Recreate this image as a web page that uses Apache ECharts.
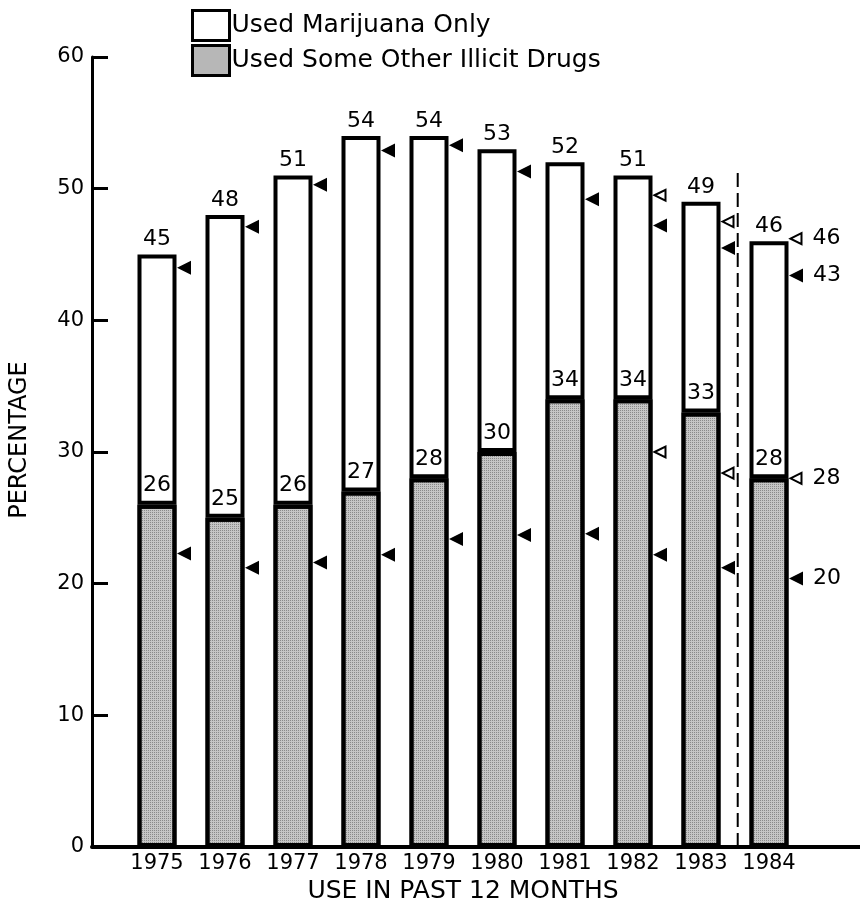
<!DOCTYPE html>
<html>
<head>
<meta charset="utf-8">
<script src="https://cdn.jsdelivr.net/npm/echarts@6/dist/echarts.min.js"></script>
<style>
html,body{margin:0;padding:0;background:#fff;}
#c{width:860px;height:912px;}
</style>
</head>
<body>
<div id="c"></div>
<script>
// ---- data ----
const years = ['1975','1976','1977','1978','1979','1980','1981','1982','1983','1984'];
const totalUse = [45, 48, 51, 54, 54, 53, 52, 51, 49, 46];
const otherDrugs = [26, 25, 26, 27, 28, 30, 34, 34, 33, 28];
const marijuanaOnly = totalUse.map((t, i) => t - otherDrugs[i]);
// triangle markers
const upperFilled = [44.0, 47.1, 50.3, 52.9, 53.3, 51.3, 49.2, 47.2, 45.5, 43.4];
const upperOpen   = [null, null, null, null, null, null, null, 49.5, 47.5, 46.2];
const lowerFilled = [22.3, 21.2, 21.6, 22.2, 23.4, 23.7, 23.8, 22.2, 21.2, 20.4];
const lowerOpen   = [null, null, null, null, null, null, null, 30.0, 28.4, 28.0];
const yTicks = [0, 10, 20, 30, 40, 50, 60];
const dividerAt = 8.54;      // between 1983 and 1984 (category index units)
const dividerTop = 51.2;

const FONT = 'DejaVu Sans';
const chart = echarts.init(document.getElementById('c'));

function triSeries(name, data, filled, yearLabel) {
  return {
    name: name,
    type: 'scatter',
    xAxisIndex: 0, yAxisIndex: 0,
    symbol: 'triangle',
    symbolRotate: 90,
    symbolSize: filled ? 14 : 11,
    symbolOffset: [27, 0],
    itemStyle: filled ? {color: '#000', opacity: 1} : {color: '#fff', borderColor: '#000', borderWidth: 2, opacity: 1},
    z: 5,
    data: data.map((v, i) => {
      if (v == null) return null;
      const item = {value: v};
      if (years[i] === yearLabel) {
        item.label = {
          show: true, position: 'right', distance: 10,
          formatter: p => Math.round(p.value),
          fontFamily: FONT, fontSize: 22, color: '#000'
        };
      }
      return item;
    }),
    silent: true
  };
}

const option = {
  animation: false,
  backgroundColor: '#fff',
  textStyle: {fontFamily: FONT, color: '#000'},
  legend: {
    orient: 'vertical',
    left: 186, top: 4,
    itemWidth: 37, itemHeight: 30,
    itemGap: 2,
    icon: 'rect',
    itemStyle: {borderColor: '#000', borderWidth: 3},
    textStyle: {fontFamily: FONT, fontSize: 25, color: '#000', padding: [0,0,0,-3]},
    data: ['Used Marijuana Only', 'Used Some Other Illicit Drugs']
  },
  grid: [
    {left: 123, right: 57, top: 57, bottom: 65},
    {left: 90, right: 0, top: 57, bottom: 65}
  ],
  xAxis: [
    {
      type: 'category', gridIndex: 0, data: years,
      axisLine: {show: false}, axisTick: {show: false},
      axisLabel: {fontFamily: FONT, fontSize: 21, color: '#000', margin: 6, interval: 0},
      name: 'USE IN PAST 12 MONTHS', nameLocation: 'middle', nameGap: 31,
      nameTextStyle: {fontFamily: FONT, fontSize: 25, color: '#000'}
    },
    {
      type: 'value', gridIndex: 1, min: 0, max: 1,
      axisLine: {show: true, lineStyle: {color: '#000', width: 4}},
      axisTick: {show: false}, axisLabel: {show: false}, splitLine: {show: false}
    },
    {
      type: 'value', gridIndex: 0, min: -0.5, max: 9.5, show: false
    }
  ],
  yAxis: [
    {type: 'value', gridIndex: 0, min: 0, max: 60, interval: 10, show: false},
    {
      type: 'value', gridIndex: 1, min: 0, max: 60, interval: 10,
      axisLine: {show: true, lineStyle: {color: '#000', width: 3}},
      axisTick: {show: true, inside: true, length: 16, lineStyle: {color: '#000', width: 3}},
      axisLabel: {fontFamily: FONT, fontSize: 21, color: '#000', margin: 8,
        formatter: v => yTicks.includes(v) ? String(v) : ''},
      splitLine: {show: false},
      name: 'PERCENTAGE', nameLocation: 'middle', nameGap: 60,
      nameTextStyle: {fontFamily: FONT, fontSize: 24, color: '#000', padding: [0, 0, 0, 24]}
    }
  ],
  series: [
    {
      name: 'Used Some Other Illicit Drugs',
      type: 'bar', stack: 'use', xAxisIndex: 0, yAxisIndex: 0,
      barWidth: 39,
      data: otherDrugs,
      itemStyle: {
        color: '#c6c6c6', borderColor: '#000', borderWidth: 4,
        decal: {symbol: 'rect', symbolSize: 1, dashArrayX: [1, 1], dashArrayY: [1, 1], color: 'rgba(0,0,0,0.3)', rotation: 0}
      },
      label: {show: true, position: 'top', distance: 8, fontFamily: FONT, fontSize: 22, color: '#000'}
    },
    {
      name: 'Used Marijuana Only',
      type: 'bar', stack: 'use', xAxisIndex: 0, yAxisIndex: 0,
      barWidth: 39,
      data: marijuanaOnly,
      itemStyle: {color: '#fff', borderColor: '#000', borderWidth: 4},
      label: {show: true, position: 'top', distance: 4, fontFamily: FONT, fontSize: 22, color: '#000',
        formatter: p => totalUse[p.dataIndex]}
    },
    triSeries('upperFilled', upperFilled, true, '1984'),
    triSeries('upperOpen', upperOpen, false, '1984'),
    triSeries('lowerFilled', lowerFilled, true, '1984'),
    triSeries('lowerOpen', lowerOpen, false, '1984'),
    {
      name: 'divider', type: 'line', xAxisIndex: 2, yAxisIndex: 0,
      data: [[dividerAt, 0], [dividerAt, dividerTop]],
      symbol: 'none', silent: true,
      lineStyle: {color: '#000', width: 2, type: [14, 6]}
    }
  ]
};
chart.setOption(option);
</script>
</body>
</html>
